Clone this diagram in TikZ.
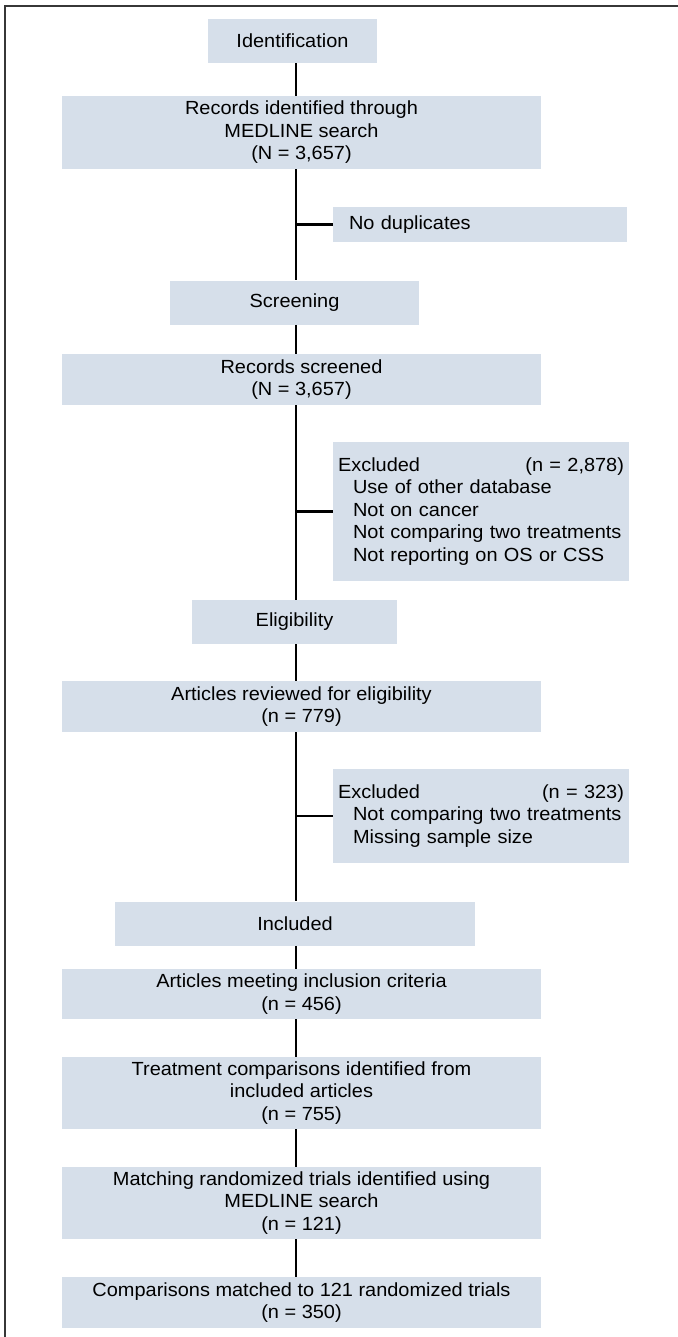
\documentclass[tikz,border=0pt]{standalone}
\usepackage{fontspec}
\setmainfont{Liberation Sans}[FakeStretch=1.05]
\usepackage{xcolor}
\usetikzlibrary{calc,positioning}
\definecolor{boxfill}{RGB}{214,223,234}
\definecolor{framegray}{RGB}{55,55,55}
\tikzset{%
	stagebox/.style = {fill=boxfill, rectangle, inner sep=0pt, minimum height=22pt, text centered},
	mainbox/.style  = {fill=boxfill, rectangle, inner sep=0pt, minimum width=239.5pt, align=center},
	sidebox/.style  = {fill=boxfill, rectangle, inner xsep=2.5pt, inner ysep=0pt, text width=143pt, align=left},
	link/.style     = {line width=1.3pt},
}

\begin{document}
\begin{tikzpicture}[x=0.5pt,y=-0.5pt,font=\fontsize{9.5}{11.25}\selectfont]
	\useasboundingbox (0,0) rectangle (678,1337);
	\draw[framegray,line width=1pt] (5,1337) -- (5,6) -- (678,6);  % frame
	\coordinate (sp) at (296,0);  % spine
	% stages and records
	\node[stagebox,minimum width=84.5pt] (ident) at (292.5,41) {Identification};
	\node[mainbox,minimum height=36.5pt] (recid) at (301.5,132.5) {Records identified through\\MEDLINE search\\(N = 3,657)};
	\node[sidebox,minimum height=17.5pt,inner xsep=8pt,text width=131pt] (nodup) at (480,224.5) {No duplicates};
	\node[stagebox,minimum width=124.5pt] (screen) at (294.5,302.5) {Screening};
	\node[mainbox,minimum height=25.5pt] (recscr) at (301.5,379.5) {Records screened\\(N = 3,657)};
	\node[sidebox,minimum height=69.5pt] (exclA) at (481,511.5) {Excluded\hfill(n = 2,878)\\
		\hspace*{7.5pt}Use of other database\\
		\hspace*{7.5pt}Not on cancer\\
		\hspace*{7.5pt}Not comparing two treatments\\
		\hspace*{7.5pt}Not reporting on OS or CSS};
	\node[stagebox,minimum width=102.5pt] (elig) at (294.5,622) {Eligibility};
	\node[mainbox,minimum height=25.5pt] (artrev) at (301.5,706.5) {Articles reviewed for eligibility\\(n = 779)};
	\node[sidebox,minimum height=47pt] (exclB) at (481,816) {Excluded\hfill(n = 323)\\
		\hspace*{7.5pt}Not comparing two treatments\\
		\hspace*{7.5pt}Missing sample size};
	\node[stagebox,minimum width=180pt] (incl) at (295,923.5) {Included};
	\node[mainbox,minimum height=25pt] (artmeet) at (301.5,994) {Articles meeting inclusion criteria\\(n = 456)};
	\node[mainbox,minimum height=36pt] (treat) at (301.5,1093) {Treatment comparisons identified from\\included articles\\(n = 755)};
	\node[mainbox,minimum height=36pt] (match) at (301.5,1203) {Matching randomized trials identified using\\MEDLINE search\\(n = 121)};
	\node[mainbox,minimum height=25.5pt] (comp) at (301.5,1302.5) {Comparisons matched to 121 randomized trials\\(n = 350)};
	% connectors
	\draw[link] (ident.south -| sp) -- (recid.north -| sp);
	\draw[link] (recid.south -| sp) -- (screen.north -| sp);
	\draw[link] (nodup.west) -- (nodup.west -| sp);
	\draw[link] (screen.south -| sp) -- (recscr.north -| sp);
	\draw[link] (recscr.south -| sp) -- (elig.north -| sp);
	\draw[link] (exclA.west) -- (exclA.west -| sp);
	\draw[link] (elig.south -| sp) -- (artrev.north -| sp);
	\draw[link] (artrev.south -| sp) -- (incl.north -| sp);
	\draw[link] (exclB.west) -- (exclB.west -| sp);
	\draw[link] (incl.south -| sp) -- (artmeet.north -| sp);
	\draw[link] (artmeet.south -| sp) -- (treat.north -| sp);
	\draw[link] (treat.south -| sp) -- (match.north -| sp);
	\draw[link] (match.south -| sp) -- (comp.north -| sp);
\end{tikzpicture}
\end{document}
